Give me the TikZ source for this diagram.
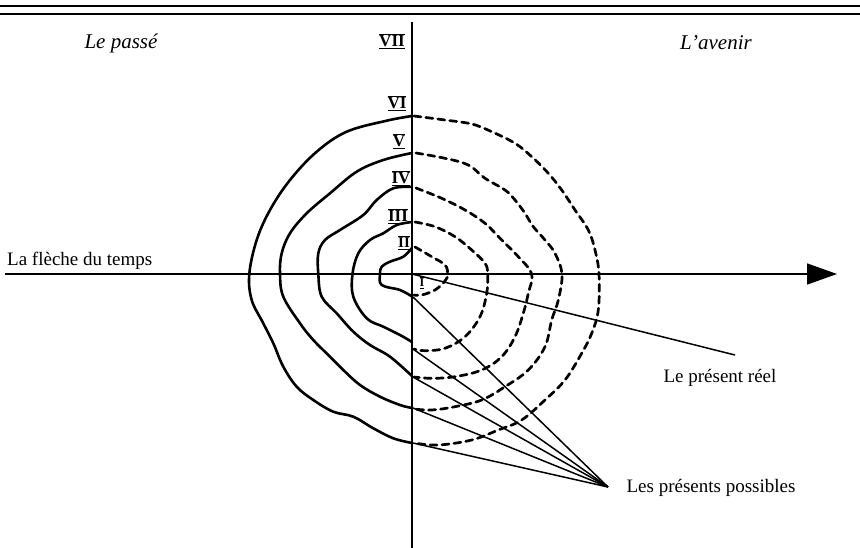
\documentclass[tikz,border=0pt]{standalone}
\usepackage{fontspec}
\setmainfont{Liberation Serif}
\usetikzlibrary{arrows.meta}
\begin{document}
\begin{tikzpicture}[x=1pt,y=-1pt,
  solidc/.style={line width=2.6pt, line join=round, line cap=round},
  dashc/.style={line width=2.7pt, dash pattern=on 7pt off 5pt, line cap=round},
  axisl/.style={line width=1.5pt},
  ray/.style={line width=1.5pt},
  numeral/.style={font=\fontsize{17}{17}\selectfont\bfseries, inner sep=0pt},
  lbl/.style={font=\fontsize{19}{19}\selectfont, inner sep=0pt},
  ital/.style={font=\fontsize{21}{22}\selectfont\itshape, inner sep=0pt}]
\useasboundingbox (0,0) rectangle (860,548);
% top rules
\draw[line width=1.1pt] (0,6) -- (860,6);
\draw[line width=1.9pt] (0,14) -- (860,14);
% axes
\coordinate (O) at (412,274);
\coordinate (vtop) at (412,22);
\coordinate (vbot) at (412,548);
\coordinate (hleft) at (5,274);
\coordinate (hright) at (837,274);
\draw[axisl] (vtop) -- (vbot);
\draw[axisl, -{Triangle[length=30pt,width=21pt]}] (hleft) -- (hright);
% solid contours (past)
\draw[solidc] plot[smooth, tension=0.6] coordinates {(412,116) (386.7,120.7) (346.7,131.7) (316.7,151.7) (290,180) (270,210) (256.7,240) (249.3,274) (251.7,300) (263.3,323.3) (273.3,343.3) (283.3,366.7) (296.7,386.7) (313.3,400) (333.3,411.7) (353.3,416.7) (373.3,428.3) (393.3,438.3) (412,443)};
\draw[solidc] plot[smooth, tension=0.6] coordinates {(412,153) (383.3,160) (356.7,171.7) (330,193.3) (306.7,213.3) (290,233.3) (281.7,253.3) (280,274) (283.3,296.7) (300,323.3) (313.3,340) (330,356.7) (343.3,370) (360,385) (380,396.7) (400,405) (412,408)};
\draw[solidc] plot[smooth, tension=0.6] coordinates {(412,187) (393.3,188.3) (376.7,200) (363.3,215) (340,230) (325,240) (318.3,253.3) (318.3,274) (321.7,296.7) (336.7,313.3) (353.3,331.7) (370,345) (390,356.7) (412,376)};
\draw[solidc] plot[smooth, tension=0.6] coordinates {(412,222) (396.7,225) (383.3,233.3) (370,240) (358.3,253.3) (352.5,274) (353.3,296.7) (366.7,318.3) (383.3,326.7) (400,335) (412,342)};
\draw[solidc] plot[smooth, tension=0.6] coordinates {(412,248) (403.3,256.7) (390,261.7) (381.7,266.7) (380,274) (381.7,285) (400,290) (412,296.5)};
% dashed contours (future)
\draw[dashc] plot[smooth, tension=0.6] coordinates {(414,116) (445,120) (471.7,124) (491.7,131.7) (515,143.3) (531.7,156.7) (548.3,173.3) (561.7,190) (575,210) (588.3,230) (595,250) (599,274) (598.3,310) (591.7,333.3) (581.7,353.3) (565,380) (545,400) (521.7,420) (498.3,430) (471.7,440) (438.3,445) (414,443)};
\draw[dashc] plot[smooth, tension=0.6] coordinates {(416,153) (445,158.3) (468.3,165) (485,178.3) (505,190) (515,200) (525,213.3) (533.3,226.7) (545,240) (555,253.3) (562,274) (558.3,300) (551.7,320) (545,346.7) (528.3,370) (505,386.7) (481.7,400) (455,406.7) (431.7,410) (414,409)};
\draw[dashc] plot[smooth, tension=0.6] coordinates {(416,188) (441.7,198.3) (465,210) (485,223.3) (501.7,240) (518.3,256.7) (531.7,274) (528.3,293.3) (523.3,313.3) (515,336.7) (501.7,356.7) (481.7,370) (455,376.7) (431.7,378.3) (414,377)};
\draw[dashc] plot[smooth, tension=0.6] coordinates {(415,222) (435,226.7) (455,236.7) (471.7,250) (485,263.3) (487.7,274) (486.7,293.3) (480,316.7) (465,336.7) (445,348.3) (425,350.7) (414,349)};
\draw[dashc] plot[smooth, tension=0.6] coordinates {(415,247) (431.7,256.7) (445,265) (447.7,274) (445,281) (435,290) (421.7,295) (414,295)};
% rays
\coordinate (reel) at (735,355);
\coordinate (poss) at (608,487);
\coordinate (b2) at (413,297);
\coordinate (b3) at (413,349);
\coordinate (b4) at (413,377);
\coordinate (b5) at (413,408);
\coordinate (b6) at (413,443);
\draw[ray] (O) -- (reel);
\foreach \b in {b2,b3,b4,b5,b6} \draw[ray] (\b) -- (poss);
% numerals
\node[numeral] (n7) at (392,41) {$\overline{\underline{\hbox{VII}}}$};
\node[numeral] (n6) at (397,103) {$\overline{\underline{\hbox{VI}}}$};
\node[numeral] (n5) at (399,141) {$\overline{\underline{\hbox{V}}}$};
\node[numeral] (n4) at (401,178) {$\overline{\underline{\hbox{IV}}}$};
\node[numeral] (n3) at (398,216) {$\overline{\underline{\hbox{III}}}$};
\node[numeral, font=\fontsize{15}{15}\selectfont\bfseries] (n2) at (404,243) {$\overline{\underline{\hbox{II}}}$};
\node[numeral, font=\fontsize{12}{12}\selectfont\bfseries] (n1) at (422,283) {$\overline{\underline{\hbox{I}}}$};
% labels
\node[ital] (passe) at (121,43) {Le passé};
\node[ital] (avenir) at (716,43) {L’avenir};
\node[lbl, anchor=west] (fleche) at (7,261) {La flèche du temps};
\node[lbl] (preel) at (720,378) {Le présent réel};
\node[lbl] (pposs) at (711,488) {Les présents possibles};
\end{tikzpicture}
\end{document}
